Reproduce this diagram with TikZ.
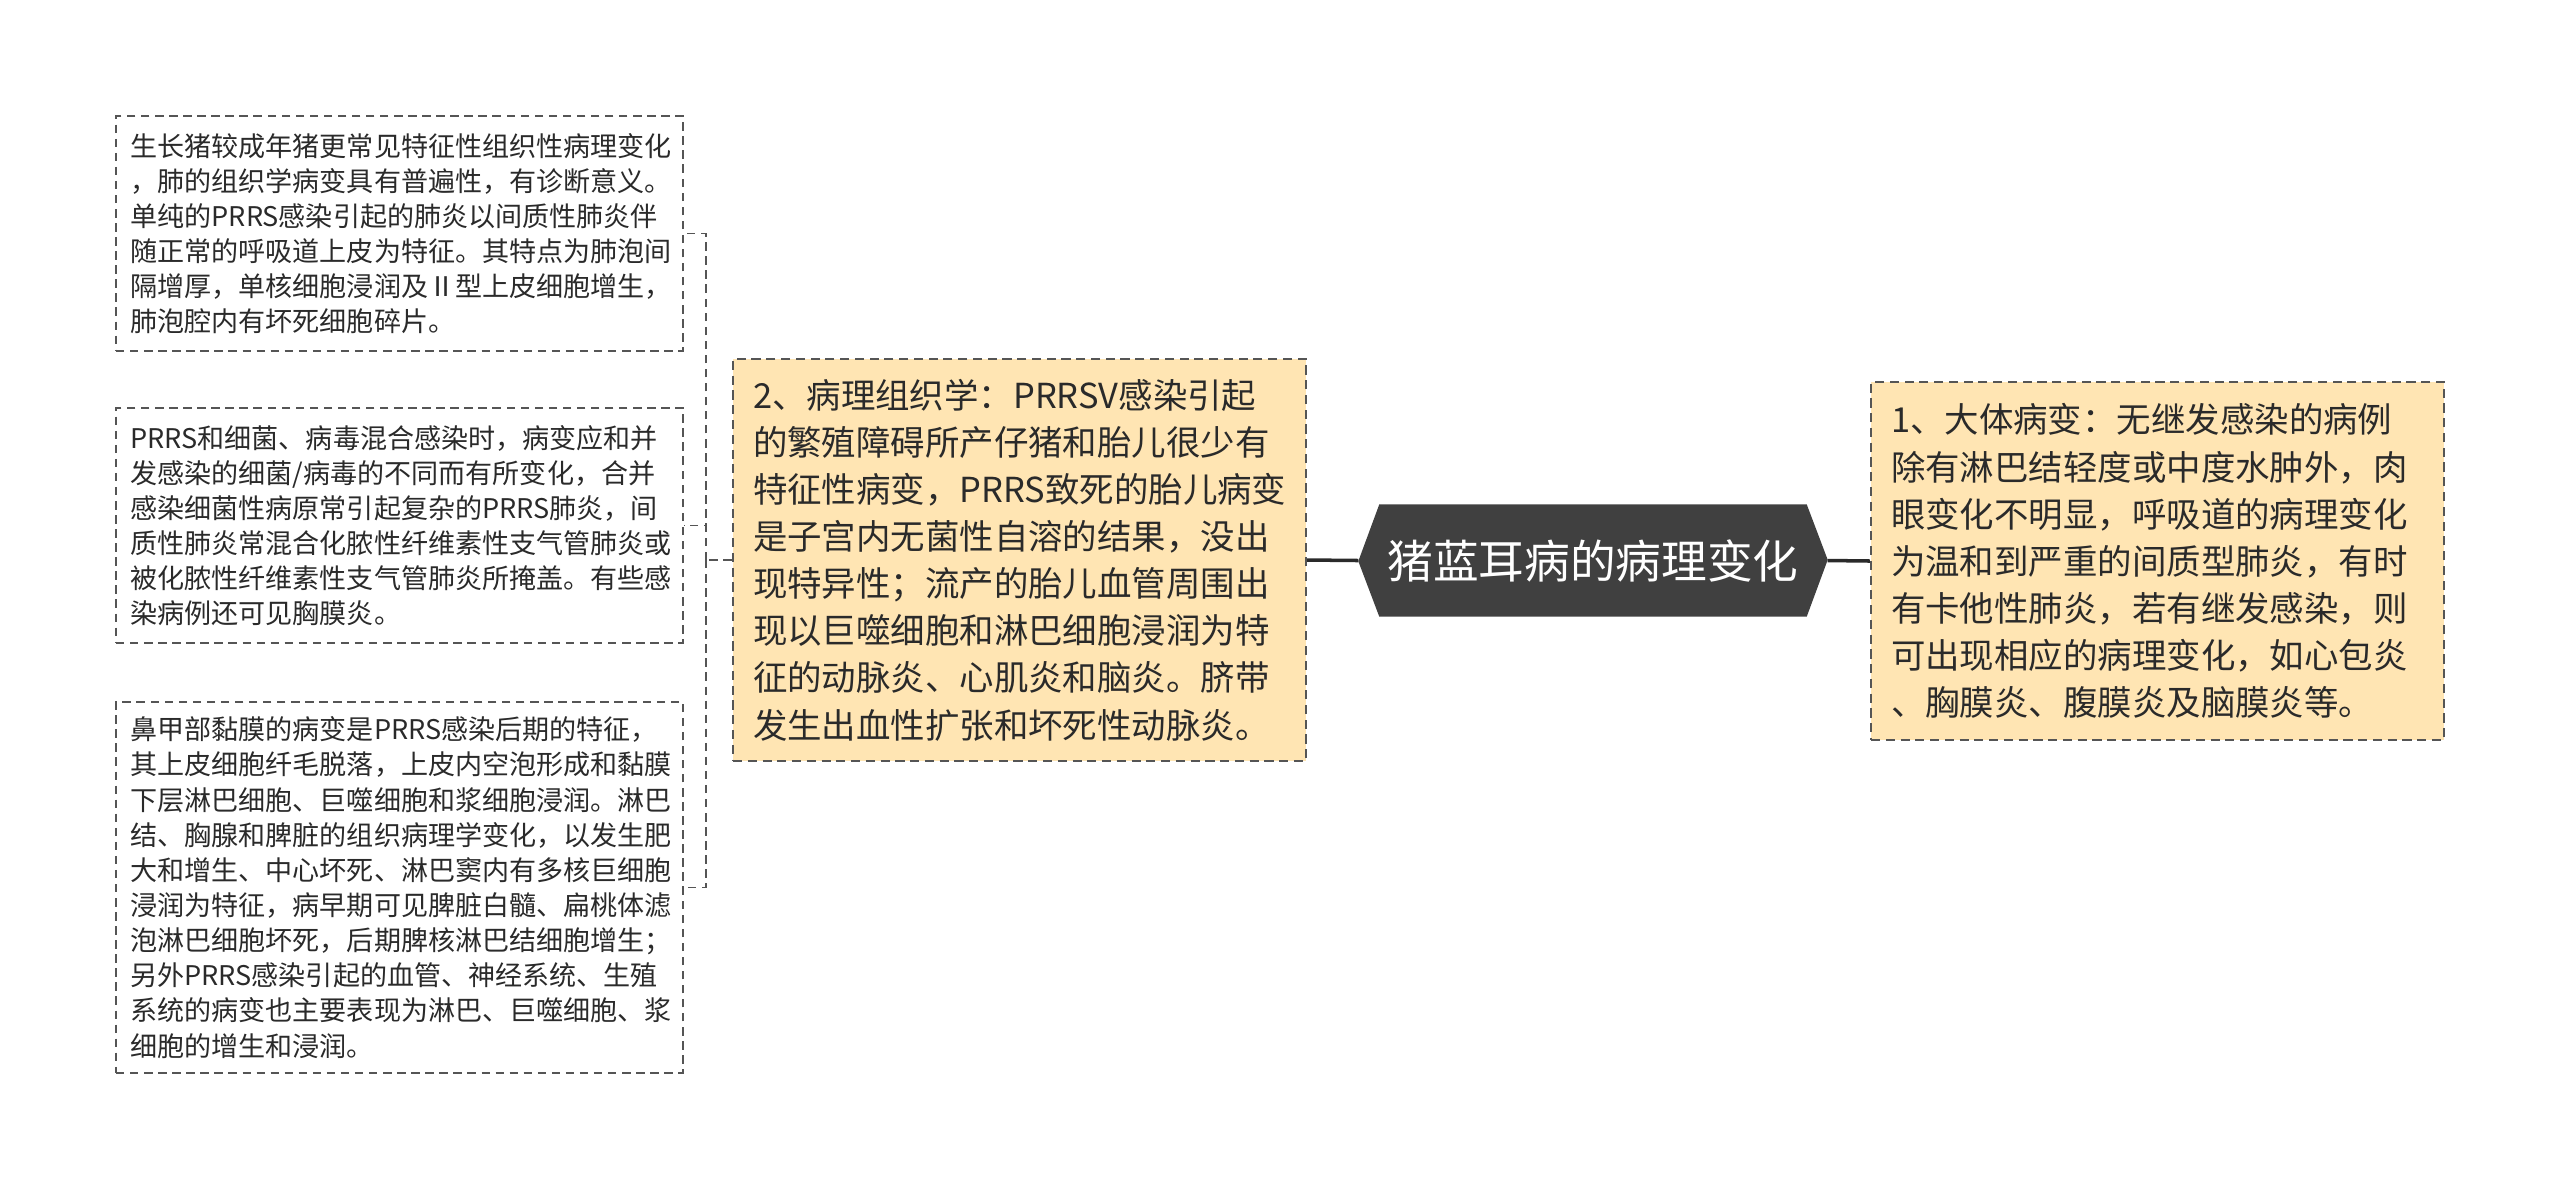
\documentclass[tikz,border=0pt]{standalone}
\usepackage{fontspec}
\setmainfont{Noto Sans CJK SC}
\usetikzlibrary{backgrounds}
\definecolor{topicfill}{HTML}{FFE5B3}
\definecolor{rootfill}{HTML}{404040}
\definecolor{boxline}{HTML}{555555}
\definecolor{inktext}{HTML}{2A2A2A}

\tikzset{
  leafbox/.style={draw=boxline, line width=0.55pt, dash pattern=on 2.4pt off 1.6pt,
    fill=white, text=inktext, align=left, text width=5.38cm, inner xsep=0.145cm,
    minimum height=#1, font=\fontsize{7.7}{10}\selectfont},
  topicbox/.style={draw=boxline, line width=0.65pt, dash pattern=on 2.6pt off 1.6pt,
    fill=topicfill, text=inktext, align=left, text width=5.33cm, inner xsep=0.2cm,
    minimum height=#1, font=\fontsize{9.8}{13.4}\selectfont},
  rootbox/.style={text=white, minimum width=4.26cm, minimum height=1.11cm,
    inner sep=0pt, font=\fontsize{13}{15}\selectfont},
  bracket/.style={draw=boxline, line width=0.55pt, dash pattern=on 2.4pt off 1.6pt},
  link/.style={draw=inktext, line width=1pt}
}

\begin{document}
\begin{tikzpicture}
  %%%%% START %%%%%
  \useasboundingbox (0,0) rectangle (25.6,-11.91);

  % centre
  \node[rootbox] (root) at (15.93,-5.605) {猪蓝耳病的病理变化};
  \begin{scope}[on background layer]
    \fill[rootfill] (root.north west) -- (root.north east) -- ++(0.21,-0.555)
      -- (root.south east) -- (root.south west) -- ++(-0.21,0.555) -- cycle;
  \end{scope}
  \coordinate (rootL) at ([xshift=-0.21cm]root.west);
  \coordinate (rootR) at ([xshift=0.21cm]root.east);

  % right branch
  \node[topicbox=3.58cm] (gross) at (21.575,-5.61) {1、大体病变：无继发感染的病例\\
除有淋巴结轻度或中度水肿外，肉\\
眼变化不明显，呼吸道的病理变化\\
为温和到严重的间质型肺炎，有时\\
有卡他性肺炎，若有继发感染，则\\
可出现相应的病理变化，如心包炎\\
、胸膜炎、腹膜炎及脑膜炎等。};

  % left branch
  \node[topicbox=4.02cm] (histo) at (10.195,-5.60) {2、病理组织学：PRRSV感染引起\\
的繁殖障碍所产仔猪和胎儿很少有\\
特征性病变，PRRS致死的胎儿病变\\
是子宫内无菌性自溶的结果，没出\\
现特异性；流产的胎儿血管周围出\\
现以巨噬细胞和淋巴细胞浸润为特\\
征的动脉炎、心肌炎和脑炎。脐带\\
发生出血性扩张和坏死性动脉炎。};

  \node[leafbox=2.35cm] (lung) at (3.995,-2.335) {生长猪较成年猪更常见特征性组织性病理变化\\
，肺的组织学病变具有普遍性，有诊断意义。\\
单纯的PRRS感染引起的肺炎以间质性肺炎伴\\
随正常的呼吸道上皮为特征。其特点为肺泡间\\
隔增厚，单核细胞浸润及Ⅱ型上皮细胞增生，\\
肺泡腔内有坏死细胞碎片。};

  \node[leafbox=2.35cm] (mixed) at (3.995,-5.255) {PRRS和细菌、病毒混合感染时，病变应和并\\
发感染的细菌/病毒的不同而有所变化，合并\\
感染细菌性病原常引起复杂的PRRS肺炎，间\\
质性肺炎常混合化脓性纤维素性支气管肺炎或\\
被化脓性纤维素性支气管肺炎所掩盖。有些感\\
染病例还可见胸膜炎。};

  \node[leafbox=3.71cm] (nasal) at (3.995,-8.875) {鼻甲部黏膜的病变是PRRS感染后期的特征，\\
其上皮细胞纤毛脱落，上皮内空泡形成和黏膜\\
下层淋巴细胞、巨噬细胞和浆细胞浸润。淋巴\\
结、胸腺和脾脏的组织病理学变化，以发生肥\\
大和增生、中心坏死、淋巴窦内有多核巨细胞\\
浸润为特征，病早期可见脾脏白髓、扁桃体滤\\
泡淋巴细胞坏死，后期脾核淋巴结细胞增生；\\
另外PRRS感染引起的血管、神经系统、生殖\\
系统的病变也主要表现为淋巴、巨噬细胞、浆\\
细胞的增生和浸润。};

  % connectors
  \draw[link] (rootL) -- (histo.east);
  \draw[link] (rootR) -- (gross.west);
  \coordinate (fork) at ([xshift=-0.26cm]histo.west);
  \draw[bracket] (histo.west) -- (fork);
  \draw[bracket] (fork) |- (lung.east);
  \draw[bracket] (fork) |- (mixed.east);
  \draw[bracket] (fork) |- (nasal.east);

  %%%%% END %%%%%
\end{tikzpicture}
\end{document}
